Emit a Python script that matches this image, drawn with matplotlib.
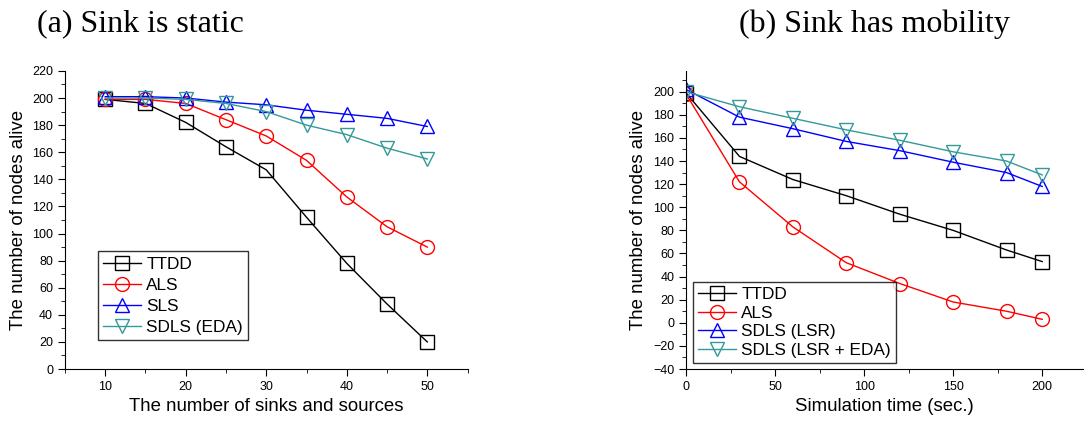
import matplotlib
matplotlib.use('Agg')
import matplotlib.pyplot as plt
from matplotlib.ticker import MultipleLocator

# (a) static sink
sinks = [10, 15, 20, 25, 30, 35, 40, 45, 50]
ttdd_a = [199, 196, 182, 164, 147, 112, 78, 48, 20]
als_a = [199, 199, 196, 184, 172, 154, 127, 105, 90]
sls_a = [201, 201, 200, 197, 195, 191, 188, 185, 179]
sdls_eda_a = [200, 200, 199, 196, 190, 180, 173, 163, 155]

# (b) mobile sink
sim_time = [0, 30, 60, 90, 120, 150, 180, 200]
ttdd_b = [199, 144, 124, 110, 94, 80, 63, 53]
als_b = [198, 122, 83, 52, 34, 18, 10, 3]
sdls_lsr_b = [202, 178, 168, 157, 149, 139, 130, 118]
sdls_lsr_eda_b = [200, 187, 177, 167, 158, 148, 140, 128]

labels_a = ['TTDD', 'ALS', 'SLS', 'SDLS (EDA)']
labels_b = ['TTDD', 'ALS', 'SDLS (LSR)', 'SDLS (LSR + EDA)']
colors = ['black', '#ff0000', '#0000ff', '#339999']
markers = ['s', 'o', '^', 'v']

plt.rcParams['font.family'] = ['Liberation Sans', 'DejaVu Sans']

fig = plt.figure(figsize=(10.85, 4.21), dpi=100)
ax1 = fig.add_axes([0.0599, 0.1235, 0.371, 0.708])
ax2 = fig.add_axes([0.6323, 0.1235, 0.366, 0.708])


def draw(ax, x, series, labels, anchor, spacing):
    for y, lab, c, m in zip(series, labels, colors, markers):
        ax.plot(x, y, color=c, marker=m, markersize=10, markerfacecolor='none',
                markeredgecolor=c, markeredgewidth=1.0, linewidth=1.0, label=lab)
    for s in ['top', 'right']:
        ax.spines[s].set_visible(False)
    ax.tick_params(which='both', direction='out', labelsize=9)
    ax.tick_params(which='major', length=5)
    ax.tick_params(which='minor', length=3)
    ax.set_ylabel('The number of nodes alive', fontsize=13.4)
    leg = ax.legend(loc='lower left', bbox_to_anchor=anchor, fontsize=12.4,
                    frameon=True, fancybox=False, edgecolor='black',
                    handlelength=2.2, handletextpad=0.3, borderpad=0.3,
                    labelspacing=spacing, borderaxespad=0)
    leg.get_frame().set_linewidth(1.0)
    return leg


draw(ax1, sinks, [ttdd_a, als_a, sls_a, sdls_eda_a], labels_a, (0.082, 0.097), 0.35)
ax1.set_xlim(5, 55)
ax1.set_ylim(0, 220)
ax1.xaxis.set_major_locator(MultipleLocator(10))
ax1.xaxis.set_minor_locator(MultipleLocator(5))
ax1.yaxis.set_major_locator(MultipleLocator(20))
ax1.yaxis.set_minor_locator(MultipleLocator(10))
ax1.set_xticks([10, 20, 30, 40, 50])
ax1.set_xlabel('The number of sinks and sources', fontsize=13.4)

draw(ax2, sim_time, [ttdd_b, als_b, sdls_lsr_b, sdls_lsr_eda_b], labels_b, (0.0175, 0.02), 0.2)
ax2.set_xlim(0, 223)
ax2.set_ylim(-40, 218)
ax2.xaxis.set_major_locator(MultipleLocator(50))
ax2.xaxis.set_minor_locator(MultipleLocator(25))
ax2.yaxis.set_major_locator(MultipleLocator(20))
ax2.yaxis.set_minor_locator(MultipleLocator(10))
ax2.set_xlabel('Simulation time (sec.)', fontsize=13.4)

fig.text(0.129, 0.943, '(a) Sink is static', fontsize=23, ha='center', va='center',
         family=['Liberation Serif', 'DejaVu Serif'])
fig.text(0.806, 0.943, '(b) Sink has mobility', fontsize=23, ha='center', va='center',
         family=['Liberation Serif', 'DejaVu Serif'])

fig.savefig('out.png', dpi=100)
